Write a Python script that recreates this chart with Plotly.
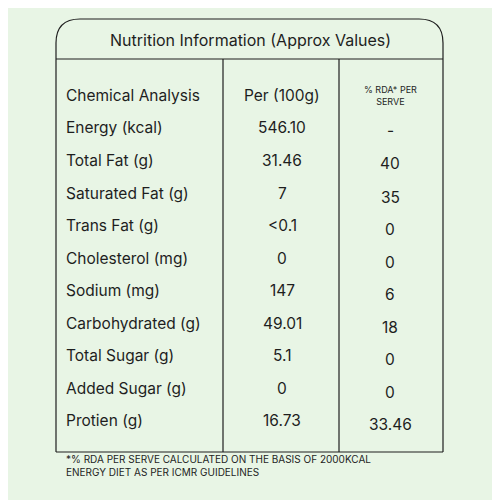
import plotly.graph_objects as go

nutrients = ["Chemical Analysis", "Energy (kcal)", "Total Fat (g)", "Saturated Fat (g)",
             "Trans Fat (g)", "Cholesterol (mg)", "Sodium (mg)", "Carbohydrated (g)",
             "Total Sugar (g)", "Added Sugar (g)", "Protien (g)"]
per_100g = ["Per (100g)", "546.10", "31.46", "7", "<0.1", "0", "147", "49.01", "5.1", "0", "16.73"]
rda = ["% RDA* PER<br>SERVE", "-", "40", "35", "0", "0", "6", "18", "0", "0", "33.46"]
row_y = [95, 127, 160, 193, 225, 258, 290, 323, 355, 388, 420]
rda_y = [95, 130, 163, 197, 229, 262, 294, 327, 359, 392, 424]

bg = "#e8f5e5"
ink = "#1e1e1e"
font = "Inter"

fig = go.Figure()
fig.add_trace(go.Scatter(x=[0], y=[0], mode="markers", marker=dict(opacity=0), hoverinfo="skip"))

x0, x1, y0, y1, r = 56, 443, 19, 452, 24
path = (f"M {x0},{y1} L {x0},{y0+r} Q {x0},{y0} {x0+r},{y0} L {x1-r},{y0} "
        f"Q {x1},{y0} {x1},{y0+r} L {x1},{y1}")
line = dict(color=ink, width=1.2)
shapes = [dict(type="path", path=path, line=line, xref="x", yref="y"),
          dict(type="line", x0=x0, x1=x1, y0=59, y1=59, line=line, xref="x", yref="y"),
          dict(type="line", x0=223, x1=223, y0=59, y1=y1, line=line, xref="x", yref="y"),
          dict(type="line", x0=339, x1=339, y0=59, y1=y1, line=line, xref="x", yref="y"),
          dict(type="line", x0=x0, x1=x1, y0=y1, y1=y1, line=line, xref="x", yref="y")]

ann = [dict(x=250, y=40, text="Nutrition Information (Approx Values)", font=dict(size=16))]
for i, name in enumerate(nutrients):
    ann.append(dict(x=64, y=row_y[i], text=name, xanchor="left", font=dict(size=15.5)))
    ann.append(dict(x=282, y=row_y[i], text=per_100g[i], font=dict(size=15.5)))
    ann.append(dict(x=390, y=rda_y[i], text=rda[i], font=dict(size=9 if i == 0 else 15.5)))
ann.append(dict(x=64, y=465, xanchor="left", align="left", font=dict(size=10),
                text="*% RDA PER SERVE CALCULATED ON THE BASIS OF 2000KCAL<br>ENERGY DIET AS PER ICMR GUIDELINES"))
for a in ann:
    a.update(xref="x", yref="y", showarrow=False)
    a["font"].update(family=font, color=ink)

# page body has an 8px margin, so shift the axis window to compensate
fig.update_layout(width=500, height=500, margin=dict(l=0, r=0, t=0, b=0),
                  paper_bgcolor=bg, plot_bgcolor=bg, showlegend=False,
                  xaxis=dict(range=[8, 508], visible=False, fixedrange=True),
                  yaxis=dict(range=[508, 8], visible=False, fixedrange=True),
                  shapes=shapes, annotations=ann)
fig.write_html("out.html")
